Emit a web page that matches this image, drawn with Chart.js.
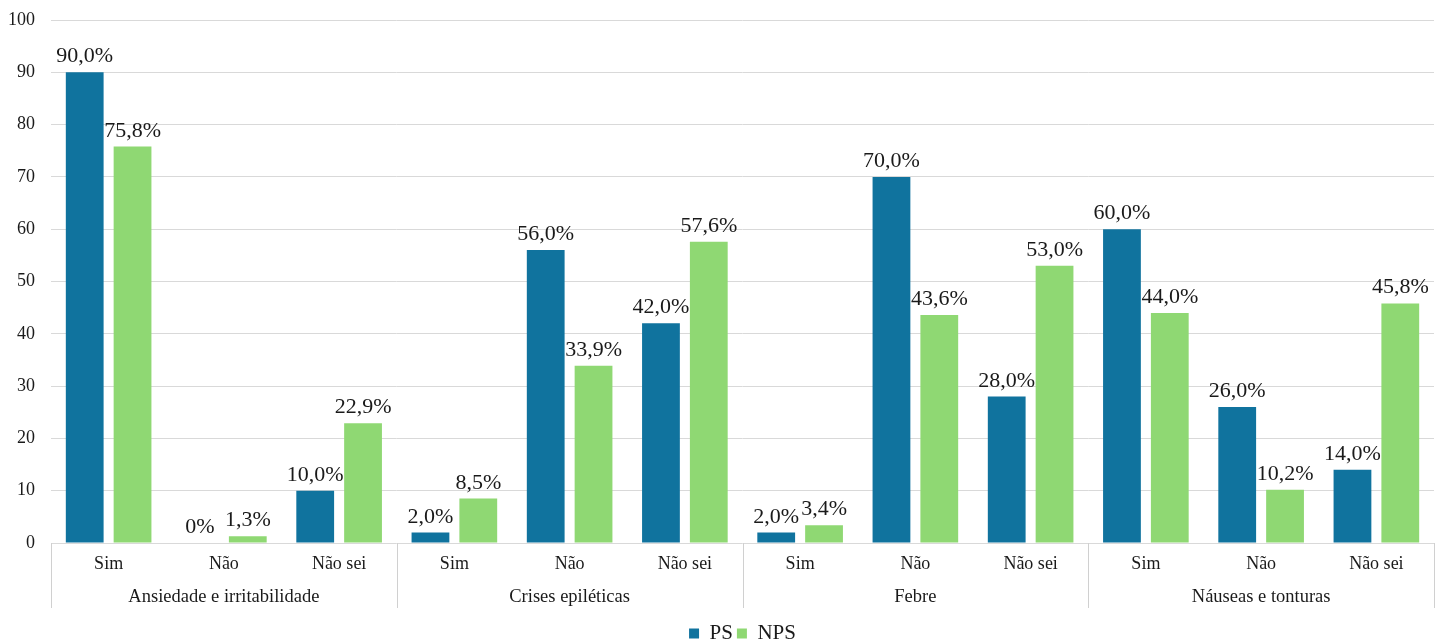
<!DOCTYPE html>
<html>
<head>
<meta charset="utf-8">
<script src="https://cdn.jsdelivr.net/npm/chart.js@4/dist/chart.umd.min.js"></script>
<style>
  html, body { margin: 0; padding: 0; background: #ffffff; }
  #wrap { width: 1446px; height: 644px; }
</style>
</head>
<body>
<div id="wrap"><canvas id="myChart" width="1446" height="644"></canvas></div>
<script>
    // Categorias (dois níveis) e valores
    var groups = ['Ansiedade e irritabilidade', 'Crises epiléticas', 'Febre', 'Náuseas e tonturas'];
    var answers = ['Sim', 'Não', 'Não sei'];
    var psValues = [90.0, 0, 10.0, 2.0, 56.0, 42.0, 2.0, 70.0, 28.0, 60.0, 26.0, 14.0];
    var npsValues = [75.8, 1.3, 22.9, 8.5, 33.9, 57.6, 3.4, 43.6, 53.0, 44.0, 10.2, 45.8];
    var yTicks = [0, 10, 20, 30, 40, 50, 60, 70, 80, 90, 100];

    var labels = [];
    groups.forEach(function() { answers.forEach(function(a) { labels.push(a); }); });

    var serif = "'Liberation Serif', 'Times New Roman', serif";

    function fmt(v) {
        if (v === 0) return '0%';
        return v.toFixed(1).replace('.', ',') + '%';
    }

    // Étiquettes au-dessus des barres
    var valueLabels = {
        id: 'valueLabels',
        afterDatasetsDraw: function(chart) {
            var ctx = chart.ctx;
            ctx.save();
            ctx.font = '22px ' + serif;
            ctx.fillStyle = '#1a1a1a';
            ctx.textAlign = 'center';
            ctx.textBaseline = 'alphabetic';
            chart.data.datasets.forEach(function(ds, di) {
                chart.getDatasetMeta(di).data.forEach(function(bar, i) {
                    ctx.fillText(fmt(ds.data[i]), bar.x, bar.y - 10);
                });
            });
            ctx.restore();
        }
    };

    // Axe X à deux niveaux : séparateurs et noms des groupes
    var groupAxis = {
        id: 'groupAxis',
        afterDraw: function(chart) {
            var ctx = chart.ctx;
            var x = chart.scales.x;
            var area = chart.chartArea;
            var bottom = area.bottom + 65;
            ctx.save();
            ctx.strokeStyle = '#d0d0d0';
            ctx.lineWidth = 1;
            var bounds = [area.left];
            for (var g = 1; g < groups.length; g++) {
                var k = g * answers.length;
                bounds.push((x.getPixelForValue(k - 1) + x.getPixelForValue(k)) / 2);
            }
            bounds.push(area.right);
            bounds.forEach(function(b) {
                var px = Math.round(b) + 0.5;
                ctx.beginPath();
                ctx.moveTo(px, area.bottom);
                ctx.lineTo(px, bottom);
                ctx.stroke();
            });
            ctx.font = '18.5px ' + serif;
            ctx.fillStyle = '#1a1a1a';
            ctx.textAlign = 'center';
            ctx.textBaseline = 'middle';
            groups.forEach(function(name, g) {
                ctx.fillText(name, (bounds[g] + bounds[g + 1]) / 2, area.bottom + 54);
            });
            ctx.restore();
        }
    };

    var ctx = document.getElementById('myChart').getContext('2d');
    var myChart = new Chart(ctx, {
        type: 'bar',
        data: {
            labels: labels,
            datasets: [{
                label: 'PS',
                data: psValues,
                backgroundColor: '#10739e',
                categoryPercentage: 0.83,
                barPercentage: 0.79
            }, {
                label: 'NPS',
                data: npsValues,
                backgroundColor: '#8fd873',
                categoryPercentage: 0.83,
                barPercentage: 0.79
            }]
        },
        options: {
            responsive: false,
            animation: false,
            layout: { padding: { top: 20, right: 12, left: 0, bottom: -10 } },
            plugins: {
                tooltip: { enabled: false },
                legend: {
                    position: 'bottom',
                    fullSize: false,
                    labels: {
                        font: { family: serif, size: 21 },
                        color: '#1a1a1a',
                        boxWidth: 10,
                        boxHeight: 10,
                        padding: 4
                    }
                }
            },
            scales: {
                x: {
                    grid: { display: false },
                    border: { display: false },
                    ticks: {
                        font: { family: serif, size: 18 },
                        color: '#1a1a1a',
                        padding: 2,
                        maxRotation: 0,
                        autoSkip: false
                    },
                    afterFit: function(scale) { scale.height = 76; }
                },
                y: {
                    min: 0,
                    max: 100,
                    afterBuildTicks: function(scale) {
                        scale.ticks = yTicks.map(function(v) { return { value: v }; });
                    },
                    grid: { color: '#d9d9d9', drawTicks: false },
                    border: { display: false },
                    ticks: {
                        font: { family: serif, size: 18 },
                        color: '#1a1a1a',
                        padding: 16
                    },
                    afterFit: function(scale) {
                        scale.width = 51;
                        scale.paddingTop = 0;
                        scale.paddingBottom = 0;
                    }
                }
            }
        },
        plugins: [valueLabels, groupAxis]
    });
</script>
</body>
</html>
